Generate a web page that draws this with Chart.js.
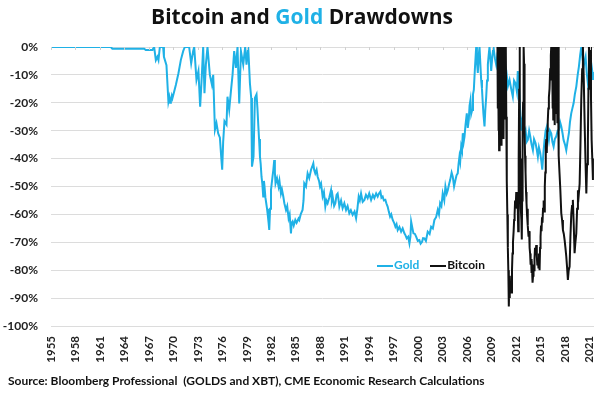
<!DOCTYPE html>
<html>
<head>
<meta charset="utf-8">
<script src="https://cdn.jsdelivr.net/npm/chart.js@4.4.1/dist/chart.umd.min.js"></script>
<style>
  html, body { margin: 0; padding: 0; background: #fff; }
  #wrap { position: relative; width: 604px; height: 394px; }
  #title {
    position: absolute; left: 0; top: 6px; width: 604px; text-align: center;
    font: bold 21px/21px "Open Sans", sans-serif; color: #111;
  }
  #title .gold { color: #1fb1e6; }
  #legend {
    position: absolute; left: 377px; top: 257px;
    font: bold 12px Lato, sans-serif; white-space: nowrap;
  }
  #legend span.item { display: inline-block; margin-right: 8px; }
  #legend i { display: inline-block; width: 16px; height: 2px; vertical-align: middle; margin-right: 1px; }
  #source {
    position: absolute; left: 8px; top: 373px;
    font: bold 12px Lato, sans-serif; color: #111; white-space: nowrap;
  }
</style>
</head>
<body>
<div id="wrap">
  <canvas id="chart" width="604" height="394"></canvas>
  <div id="title">Bitcoin and <span class="gold">Gold</span> Drawdowns</div>
  <div id="legend">
    <span class="item" style="color:#1fb1e6"><i style="background:#1fb1e6"></i>Gold</span>
    <span class="item" style="color:#111"><i style="background:#111"></i>Bitcoin</span>
  </div>
  <div id="source">Source: Bloomberg Professional&nbsp; (GOLDS and XBT), CME Economic Research Calculations</div>
</div>
<script>
// --- Data (decimal year, drawdown %) ---
const goldYears = [
  1955.0, 1962.33, 1962.52, 1966.41, 1966.62, 1967.43, 1967.64, 1967.85, 1968.04, 1968.17,
  1968.34, 1968.74, 1968.84, 1969.15, 1969.39, 1969.5, 1969.6, 1969.69, 1969.8, 1969.88,
  1970.09, 1970.3, 1970.62, 1970.91, 1971.2, 1971.4, 1971.93, 1972.18, 1972.42, 1972.55,
  1972.83, 1973.07, 1973.28, 1973.49, 1973.65, 1973.81, 1973.98, 1974.18, 1974.47, 1974.72,
  1974.88, 1975.09, 1975.28, 1975.49, 1975.7, 1975.86, 1975.98, 1976.1, 1976.26, 1976.51,
  1976.63, 1976.84, 1977.05, 1977.25, 1977.45, 1977.66, 1977.86, 1978.07, 1978.28, 1978.56,
  1978.8, 1978.96, 1979.17, 1979.38, 1979.54, 1979.63, 1979.82, 1979.99,
  1980.19, 1980.3, 1980.4, 1980.5, 1980.61, 1980.7, 1980.8, 1980.9, 1981.01, 1981.1,
  1981.17, 1981.28, 1981.38, 1981.48, 1981.59, 1981.67, 1981.75, 1981.85, 1981.96, 1982.05,
  1982.15, 1982.25, 1982.36, 1982.44, 1982.52, 1982.7, 1982.89, 1983.0, 1983.18, 1983.3,
  1983.47, 1983.6, 1983.8, 1983.95, 1984.12, 1984.25, 1984.41, 1984.5, 1984.61, 1984.75,
  1984.94, 1985.1, 1985.34, 1985.43, 1985.6, 1985.83, 1985.95, 1986.04, 1986.25, 1986.45,
  1986.65, 1986.87, 1987.0, 1987.15, 1987.25, 1987.39, 1987.55, 1987.68, 1987.85, 1987.97,
  1988.1, 1988.29, 1988.45, 1988.62, 1988.75, 1988.9, 1989.1, 1989.32, 1989.42, 1989.52,
  1989.7, 1989.85, 1990.0, 1990.13, 1990.25, 1990.34, 1990.55, 1990.74, 1990.95, 1991.16,
  1991.35, 1991.56, 1991.75, 1991.97, 1992.2, 1992.39, 1992.55, 1992.71, 1992.85, 1993.0,
  1993.2, 1993.41, 1993.6, 1993.81, 1994.0, 1994.23, 1994.45, 1994.63, 1994.85, 1995.04,
  1995.2, 1995.37, 1995.5, 1995.65, 1995.8, 1995.98, 1996.1, 1996.26, 1996.4, 1996.56,
  1996.7, 1996.88, 1997.05, 1997.21, 1997.35, 1997.49, 1997.7, 1997.91, 1998.1, 1998.31,
  1998.45, 1998.6, 1998.78, 1998.93, 1999.05, 1999.14, 1999.3, 1999.42, 1999.6, 1999.75,
  1999.95, 2000.15, 2000.3, 2000.48, 2000.6, 2000.77, 2000.95, 2001.17, 2001.4, 2001.59,
  2001.8, 2001.99, 2002.2, 2002.4, 2002.55, 2002.69, 2002.85, 2003.01, 2003.2, 2003.34,
  2003.5, 2003.63, 2003.8, 2003.92, 2004.1, 2004.24, 2004.4, 2004.57, 2004.7, 2004.85,
  2004.95, 2005.06, 2005.15, 2005.27, 2005.37, 2005.47, 2005.58, 2005.68, 2005.8, 2005.96,
  2006.08, 2006.2, 2006.3, 2006.41, 2006.5, 2006.62, 2006.72, 2006.82, 2006.95, 2007.11,
  2007.2, 2007.31, 2007.42, 2007.52, 2007.62, 2007.72, 2007.82, 2007.92, 2008.0, 2008.13,
  2008.22, 2008.34, 2008.44, 2008.54, 2008.64, 2008.74, 2008.85, 2008.95, 2009.1, 2009.23,
  2009.4, 2009.56, 2009.75, 2009.97, 2010.2, 2010.38, 2010.6, 2010.79, 2011.0, 2011.2,
  2011.4, 2011.6, 2011.75, 2011.93, 2012.1, 2012.21, 2012.32, 2012.42, 2012.52, 2012.63,
  2012.72, 2012.83, 2013.0, 2013.16, 2013.3, 2013.44, 2013.6, 2013.73, 2013.9, 2014.06,
  2014.2, 2014.39, 2014.55, 2014.67, 2014.8, 2014.96, 2015.1, 2015.21, 2015.35, 2015.49,
  2015.62, 2015.77, 2015.9, 2016.02, 2016.15, 2016.31, 2016.45, 2016.6, 2016.75, 2016.93,
  2017.1, 2017.25, 2017.4, 2017.54, 2017.7, 2017.82, 2018.0, 2018.15, 2018.3, 2018.47,
  2018.6, 2018.76, 2018.9, 2019.05, 2019.2, 2019.38, 2019.55, 2019.7, 2019.85, 2019.99,
  2020.15, 2020.28, 2020.4, 2020.52, 2020.65, 2020.8, 2020.9, 2021.01, 2021.15, 2021.26,
  2021.35, 2021.42
];
const goldDrawdown = [
  0, 0, -0.6, -0.6, -1.1, -1.1, 0, -4.7, -3.5, -4.7,
  0, 0, -3.5, -6.5, -19.6, -18, -20, -19, -17.5, -18.4,
  -16, -13.6, -9.4, -4.7, -1.5, 0, 0, -5.9, -1.5, 0,
  -11.8, -8.6, -21.4, -10, 0, -16.6, -6.3, 0, -10, -13.5,
  -10, -29.7, -27.3, -31, -32.5, -39.3, -44, -34, -26.6, -27.8,
  -17.8, -22.5, -15.9, -10, -1.5, -7.5, 0, -20.2, -1.5, -6.3,
  0, -6.3, 0, -13, -18.3, -42.9, -39.3, -18.3,
  -17, -22, -27.8, -33, -39.3, -42, -46.5, -49, -53.6, -48,
  -50, -54, -56, -58, -60.8, -63, -65.6, -58, -51.3, -49,
  -46.5, -44, -40.5, -45, -48.9, -47, -50, -48, -52.5, -51,
  -53.6, -56, -58.4, -57, -61.4, -60, -66.8, -63, -62.5, -64,
  -62, -63, -61.5, -62, -60, -58.4, -55, -48.9, -50, -45.3,
  -47, -44, -43, -41.7, -44, -45.3, -44, -46.5, -48, -50,
  -49, -53.6, -52, -57.2, -55, -56, -54, -51.3, -55, -53.6,
  -57, -56, -53, -52.5, -55, -57.2, -55, -57.8, -56, -58.4,
  -57, -59.6, -58.5, -60.2, -59, -61.4, -58, -53.6, -55, -52.5,
  -55.5, -54.8, -53, -54.2, -52.5, -54.8, -53, -54.2, -52.5, -53.6,
  -52.5, -51.8, -54, -53.6, -55, -54.8, -56, -57.2, -59, -60.8,
  -60, -62, -63, -64.4, -63.5, -65.6, -64.5, -66.2, -65, -66.8,
  -67.5, -68.6, -68, -70.4, -68, -62.6, -65, -66.8, -67, -68,
  -69.5, -69.2, -70.5, -69.8, -68.5, -68.6, -69.5, -66.2, -67, -64.4,
  -65, -62, -61, -58.4, -60, -56, -57, -52.5, -55, -50,
  -52.5, -51.3, -49, -47.7, -45, -46.5, -50, -47.7, -46, -45.3,
  -42, -39.3, -41, -35.7, -37, -30.9, -34, -32.1, -28, -23.8,
  -29, -26.2, -21, -19, -24, -22.6, -17, -15.4, -8, 0,
  -5, -9.3, -3, 0, -6, -11.8, -15, -20.2, -24, -28.5,
  -23, -17.8, -12, -6.3, -3, 0, -4, -8.6, -3, 0,
  -4, -6.3, -2, 0, -2, -3.5, -6, -8.3, -14, -11.8,
  -15, -17.8, -12, -13, -16, -8.6, -12, -17.8, -24, -29.7,
  -27, -25, -31, -29.7, -34, -33.3, -30, -32, -35, -37,
  -33, -34.5, -37, -39.3, -36, -38, -41, -44, -38, -33.3,
  -30, -28.5, -31, -33.3, -30, -31, -34, -35.7, -33, -32,
  -30, -29.7, -27, -28.5, -31, -33.3, -35, -37, -34, -31,
  -27, -23.8, -22, -20.2, -17, -14.2, -10, -7, -3, 0,
  -4, -7, -5, -3.5, -9, -13, -11, -10.7, -8, -7,
  -9, -11.8
];

const btcYears = [
  2009.72, 2009.76, 2009.8, 2009.84, 2009.88, 2009.92, 2009.96, 2010.0, 2010.04, 2010.08,
  2010.12, 2010.16, 2010.2, 2010.24, 2010.28, 2010.32, 2010.36, 2010.4, 2010.44, 2010.48,
  2010.52, 2010.56, 2010.6, 2010.64, 2010.68, 2010.72, 2010.76,
  2010.8, 2010.84, 2010.88, 2010.93, 2010.99, 2011.05, 2011.11, 2011.16, 2011.2, 2011.25,
  2011.3, 2011.36, 2011.44, 2011.5, 2011.56, 2011.62, 2011.7, 2011.76, 2011.82, 2011.88,
  2011.95, 2012.02, 2012.08, 2012.14, 2012.21, 2012.26, 2012.3, 2012.34, 2012.38, 2012.42,
  2012.45, 2012.48, 2012.52, 2012.56, 2012.6, 2012.65, 2012.7, 2012.74, 2012.78, 2012.82,
  2012.86, 2012.9, 2012.95, 2012.98, 2013.02, 2013.06, 2013.1, 2013.16, 2013.22, 2013.28,
  2013.34, 2013.4, 2013.46, 2013.53, 2013.6, 2013.66, 2013.72, 2013.78, 2013.84, 2013.9,
  2013.96, 2014.02, 2014.08, 2014.14, 2014.2, 2014.26, 2014.32, 2014.4, 2014.47, 2014.54,
  2014.6, 2014.67, 2014.74, 2014.8, 2014.88, 2014.94, 2015.0, 2015.06, 2015.12, 2015.18,
  2015.24, 2015.3, 2015.38, 2015.45, 2015.52, 2015.58, 2015.64, 2015.7, 2015.76, 2015.82,
  2015.88, 2015.95, 2016.02, 2016.1, 2016.18, 2016.26, 2016.31, 2016.36, 2016.41, 2016.46,
  2016.51, 2016.56, 2016.61, 2016.66, 2016.71, 2016.76, 2016.81, 2016.86, 2016.91, 2016.96,
  2017.01, 2017.06, 2017.11, 2017.16, 2017.2, 2017.24, 2017.32, 2017.42, 2017.54, 2017.64,
  2017.74, 2017.85, 2017.95, 2018.05, 2018.15, 2018.25, 2018.35, 2018.45, 2018.56, 2018.66,
  2018.77, 2018.86, 2018.96, 2019.07, 2019.17, 2019.27, 2019.38, 2019.48, 2019.58, 2019.68,
  2019.79, 2019.89, 2019.99, 2020.1, 2020.19, 2020.3, 2020.4, 2020.5, 2020.61, 2020.7,
  2020.8, 2020.87, 2020.93, 2021.02, 2021.1, 2021.18, 2021.26, 2021.34, 2021.42
];
const btcDrawdown = [
  0, -22, -3, -30, 0, -37, -10, -33, 0, -28,
  -5, -35, 0, -25, -8, -30, 0, -20, -3, -33,
  0, -26, -6, -18, 0, -12, 0,
  -25, -40, -48, -60, -72, -80, -93, -86, -90, -82,
  -87, -84, -88, -80, -74, -70, -66, -62, -60, -55,
  -58, -52, -56, -54, -58, -66, -60, -40, -15, 0,
  -10, -30, -48, -40, -58, -62, -69, -55, -45, -30,
  -20, -8, 0, -6, -18, -30, -39, -45, -52, -56,
  -60, -58, -64, -68, -66, -72, -74, -78, -76, -81,
  -80, -84.5, -82, -78, -80, -76, -72, -74, -71, -75,
  -78, -76, -79, -74, -80, -72, -68, -64, -66, -61,
  -63, -58, -55, -59, -50, -45, -36, -33, -38, -30,
  -27, -22, -18, -15, -8, -3, 0, -12, 0, -22,
  -4, -26, 0, -18, -2, -28, 0, -15, 0, -24,
  -2, -27, 0, -20, 0, -39, -45, -51, -59.6, -62,
  -65.6, -67, -69.2, -72, -75, -79, -83.5, -80, -78.7, -68,
  -59.6, -57, -54.8, -64, -73.9, -70, -66.8, -58, -51.3, -53,
  -49, -35, -18.8, -8, 0, -12, -27, -40, -52.5, -42,
  -33.3, -15, 0, -6, 0, -18, -33.3, -40, -47.7
];

const xTickYears = [1955, 1958, 1961, 1964, 1967, 1970, 1973, 1976, 1979, 1982, 1985, 1988,
  1991, 1994, 1997, 2000, 2003, 2006, 2009, 2012, 2015, 2018, 2021];
const yMin = -100;
const yMax = 0;

const toPoints = (xs, ys) => xs.map((x, i) => ({ x: x, y: ys[i] }));

// tiny tick marks hanging from the 0% line, like the source chart's crossing axis
const topTicks = {
  id: "topTicks",
  afterDatasetsDraw(chart) {
    const { ctx, chartArea, scales } = chart;
    ctx.save();
    ctx.strokeStyle = "#d0d0d0";
    ctx.lineWidth = 1;
    xTickYears.forEach((yr) => {
      const px = Math.round(scales.x.getPixelForValue(yr)) + 0.5;
      ctx.beginPath();
      ctx.moveTo(px, chartArea.top);
      ctx.lineTo(px, chartArea.top + 3);
      ctx.stroke();
    });
    ctx.restore();
  },
};

const xFont = { family: "Lato, sans-serif", size: 11.5, weight: "bold" };
const yFont = { family: "Lato, sans-serif", size: 12, weight: "bold" };

new Chart(document.getElementById("chart"), {
  type: "line",
  data: {
    datasets: [
      {
        label: "Bitcoin",
        data: toPoints(btcYears, btcDrawdown),
        borderColor: "#111111",
        borderWidth: 2,
        pointRadius: 0,
        tension: 0,
      },
      {
        label: "Gold",
        data: toPoints(goldYears, goldDrawdown),
        borderColor: "#1fb1e6",
        borderWidth: 2,
        pointRadius: 0,
        tension: 0,
      },
    ],
  },
  options: {
    responsive: false,
    animation: false,
    layout: { padding: { top: 47, right: 10, bottom: 22, left: 0 } },
    plugins: {
      legend: { display: false },
      title: { display: false },
      tooltip: { enabled: false },
    },
    scales: {
      x: {
        type: "linear",
        min: 1955,
        max: 2021.55,
        afterBuildTicks: (scale) => {
          scale.ticks = xTickYears.map((v) => ({ value: v }));
        },
        afterFit: (scale) => {
          scale.height = 46;
          scale.paddingLeft = 0;
          scale.paddingRight = 0;
        },
        grid: { display: false, drawTicks: false },
        border: { display: false },
        ticks: {
          autoSkip: false,
          maxRotation: 90,
          minRotation: 90,
          padding: 10,
          color: "#222",
          font: xFont,
          callback: (v) => String(v),
        },
      },
      y: {
        min: yMin,
        max: yMax,
        afterFit: (scale) => {
          scale.width = 51;
        },
        grid: { color: "#dcdcdc", lineWidth: 1, drawTicks: false },
        border: { display: false },
        ticks: {
          stepSize: 10,
          padding: 13,
          color: "#222",
          font: yFont,
          callback: (v) => v + "%",
        },
      },
    },
  },
  plugins: [topTicks],
});
</script>
</body>
</html>
